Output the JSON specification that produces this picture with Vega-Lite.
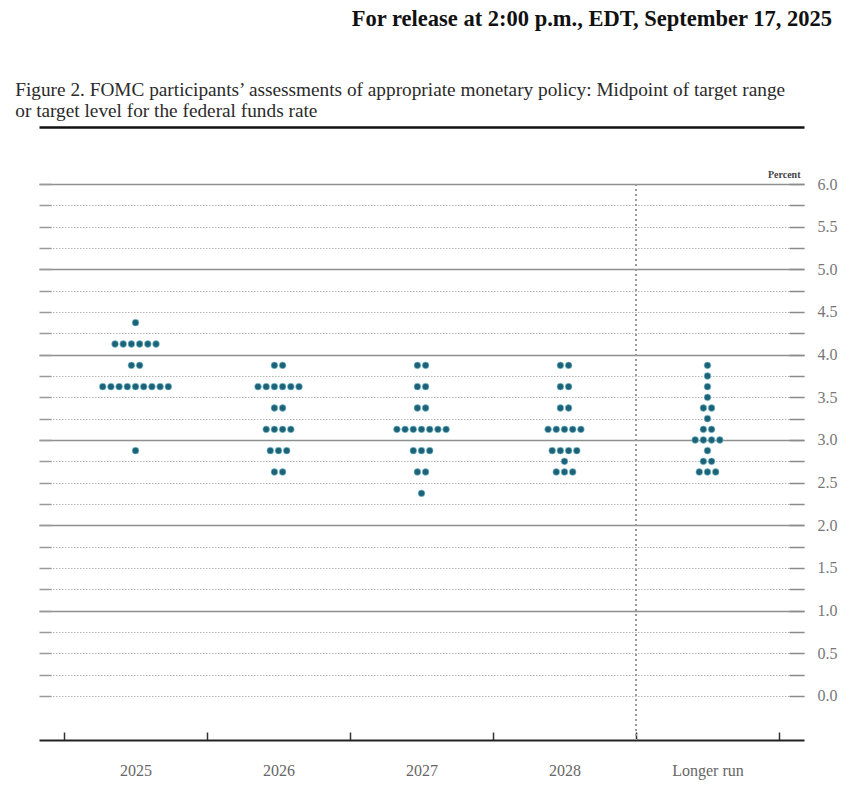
{
  "$schema": "https://vega.github.io/schema/vega-lite/v6.json",
  "background": "white",
  "padding": {"left": 15, "top": 8, "right": 10, "bottom": 4},
  "config": {"view": {"stroke": null}},
  "title": {
    "text": "For release at 2:00 p.m., EDT, September 17, 2025",
    "anchor": "end",
    "frame": "bounds",
    "dx": -5,
    "offset": 50,
    "font": "Liberation Serif",
    "fontSize": 22.5,
    "fontWeight": "bold",
    "color": "#111111"
  },
  "vconcat": [
    {
      "width": 765,
      "height": 556,
      "title": {
        "text": ["Figure 2. FOMC participants’ assessments of appropriate monetary policy: Midpoint of target range", "or target level for the federal funds rate"],
        "anchor": "start",
        "frame": "bounds",
        "dx": -23,
        "offset": 6,
        "lineHeight": 21,
        "font": "Liberation Serif",
        "fontSize": 19.3,
        "fontWeight": "normal",
        "color": "#2a2a2a"
      },
      "data": {
        "values": [
          {"period": "2025", "rate": 4.375},
          {"period": "2025", "rate": 4.125}, {"period": "2025", "rate": 4.125}, {"period": "2025", "rate": 4.125},
          {"period": "2025", "rate": 4.125}, {"period": "2025", "rate": 4.125}, {"period": "2025", "rate": 4.125},
          {"period": "2025", "rate": 3.875}, {"period": "2025", "rate": 3.875},
          {"period": "2025", "rate": 3.625}, {"period": "2025", "rate": 3.625}, {"period": "2025", "rate": 3.625},
          {"period": "2025", "rate": 3.625}, {"period": "2025", "rate": 3.625}, {"period": "2025", "rate": 3.625},
          {"period": "2025", "rate": 3.625}, {"period": "2025", "rate": 3.625}, {"period": "2025", "rate": 3.625},
          {"period": "2025", "rate": 2.875},

          {"period": "2026", "rate": 3.875}, {"period": "2026", "rate": 3.875},
          {"period": "2026", "rate": 3.625}, {"period": "2026", "rate": 3.625}, {"period": "2026", "rate": 3.625},
          {"period": "2026", "rate": 3.625}, {"period": "2026", "rate": 3.625}, {"period": "2026", "rate": 3.625},
          {"period": "2026", "rate": 3.375}, {"period": "2026", "rate": 3.375},
          {"period": "2026", "rate": 3.125}, {"period": "2026", "rate": 3.125}, {"period": "2026", "rate": 3.125}, {"period": "2026", "rate": 3.125},
          {"period": "2026", "rate": 2.875}, {"period": "2026", "rate": 2.875}, {"period": "2026", "rate": 2.875},
          {"period": "2026", "rate": 2.625}, {"period": "2026", "rate": 2.625},

          {"period": "2027", "rate": 3.875}, {"period": "2027", "rate": 3.875},
          {"period": "2027", "rate": 3.625}, {"period": "2027", "rate": 3.625},
          {"period": "2027", "rate": 3.375}, {"period": "2027", "rate": 3.375},
          {"period": "2027", "rate": 3.125}, {"period": "2027", "rate": 3.125}, {"period": "2027", "rate": 3.125}, {"period": "2027", "rate": 3.125},
          {"period": "2027", "rate": 3.125}, {"period": "2027", "rate": 3.125}, {"period": "2027", "rate": 3.125},
          {"period": "2027", "rate": 2.875}, {"period": "2027", "rate": 2.875}, {"period": "2027", "rate": 2.875},
          {"period": "2027", "rate": 2.625}, {"period": "2027", "rate": 2.625},
          {"period": "2027", "rate": 2.375},

          {"period": "2028", "rate": 3.875}, {"period": "2028", "rate": 3.875},
          {"period": "2028", "rate": 3.625}, {"period": "2028", "rate": 3.625},
          {"period": "2028", "rate": 3.375}, {"period": "2028", "rate": 3.375},
          {"period": "2028", "rate": 3.125}, {"period": "2028", "rate": 3.125}, {"period": "2028", "rate": 3.125},
          {"period": "2028", "rate": 3.125}, {"period": "2028", "rate": 3.125},
          {"period": "2028", "rate": 2.875}, {"period": "2028", "rate": 2.875}, {"period": "2028", "rate": 2.875}, {"period": "2028", "rate": 2.875},
          {"period": "2028", "rate": 2.75},
          {"period": "2028", "rate": 2.625}, {"period": "2028", "rate": 2.625}, {"period": "2028", "rate": 2.625},

          {"period": "Longer run", "rate": 3.875},
          {"period": "Longer run", "rate": 3.75},
          {"period": "Longer run", "rate": 3.625},
          {"period": "Longer run", "rate": 3.5},
          {"period": "Longer run", "rate": 3.375}, {"period": "Longer run", "rate": 3.375},
          {"period": "Longer run", "rate": 3.25},
          {"period": "Longer run", "rate": 3.125}, {"period": "Longer run", "rate": 3.125},
          {"period": "Longer run", "rate": 3.0}, {"period": "Longer run", "rate": 3.0}, {"period": "Longer run", "rate": 3.0}, {"period": "Longer run", "rate": 3.0},
          {"period": "Longer run", "rate": 2.875},
          {"period": "Longer run", "rate": 2.75}, {"period": "Longer run", "rate": 2.75},
          {"period": "Longer run", "rate": 2.625}, {"period": "Longer run", "rate": 2.625}, {"period": "Longer run", "rate": 2.625}
        ]
      },
      "transform": [
        {"window": [{"op": "row_number", "as": "idx"}], "groupby": ["period", "rate"]},
        {"joinaggregate": [{"op": "count", "as": "n"}], "groupby": ["period", "rate"]},
        {"calculate": "datum.idx - (datum.n + 1) / 2", "as": "off"}
      ],
      "layer": [
        {
          "mark": {"type": "circle", "size": 46, "opacity": 1, "color": "#1d6277", "stroke": "#8fd0e2", "strokeWidth": 0.6},
          "encoding": {
            "x": {
              "field": "period",
              "type": "nominal",
              "sort": ["2025", "2026", "2027", "2028", "Longer run"],
              "scale": {"paddingInner": 0, "paddingOuter": 0.175},
              "axis": {
                "orient": "bottom",
                "title": null,
                "labelAngle": 0,
                "grid": false,
                "domainColor": "#222222",
                "domainWidth": 2,
                "tickBand": "extent",
                "tickSize": -8,
                "tickColor": "#333333",
                "tickWidth": 1.5,
                "labelPadding": 30,
                "labelFont": "Liberation Serif",
                "labelFontSize": 16,
                "labelColor": "#666666"
              }
            },
            "xOffset": {"field": "off", "type": "quantitative", "scale": {"domain": [-1, 1], "range": [63.3, 79.7]}},
            "y": {
              "field": "rate",
              "type": "quantitative",
              "scale": {"domain": [-0.516, 6], "nice": false, "zero": false},
              "axis": {
                "orient": "right",
                "values": [0, 0.25, 0.5, 0.75, 1, 1.25, 1.5, 1.75, 2, 2.25, 2.5, 2.75, 3, 3.25, 3.5, 3.75, 4, 4.25, 4.5, 4.75, 5, 5.25, 5.5, 5.75, 6],
                "format": ".1f",
                "labelExpr": "datum.value % 0.5 === 0 ? datum.label : ''",
                "grid": true,
                "gridColor": {"condition": {"test": "datum.value % 1 === 0 && datum.value > 0", "value": "#8f8f8f"}, "value": "#b5b5b5"},
                "gridDash": {"condition": {"test": "datum.value % 1 === 0 && datum.value > 0", "value": []}, "value": [1.5, 1.5]},
                "gridWidth": {"condition": {"test": "datum.value % 1 === 0 && datum.value > 0", "value": 1.5}, "value": 1},
                "domain": false,
                "tickSize": -15,
                "tickColor": "#8a8a8a",
                "tickWidth": 1.5,
                "labelPadding": 28,
                "labelFont": "Liberation Serif",
                "labelFontSize": 16,
                "labelColor": "#777777",
                "title": "Percent",
                "titleAngle": 0,
                "titleX": -4,
                "titleY": -5,
                "titleAlign": "right",
                "titleBaseline": "bottom",
                "titleFont": "Liberation Serif",
                "titleFontSize": 10,
                "titleFontWeight": "bold",
                "titleColor": "#444444"
              }
            }
          }
        },
        {
          "mark": {"type": "rule", "color": "#9a9a9a", "strokeWidth": 1.5, "strokeDash": [2, 3]},
          "encoding": {
            "x": {
              "datum": "Longer run",
              "type": "nominal",
              "bandPosition": 0,
              "axis": {"orient": "top", "offset": 57, "title": null, "labels": false, "ticks": false, "grid": false, "domainColor": "#111111", "domainWidth": 2.5}
            },
            "y": {
              "datum": 6,
              "type": "quantitative",
              "axis": {
                "orient": "left",
                "values": [0, 0.25, 0.5, 0.75, 1, 1.25, 1.5, 1.75, 2, 2.25, 2.5, 2.75, 3, 3.25, 3.5, 3.75, 4, 4.25, 4.5, 4.75, 5, 5.25, 5.5, 5.75, 6],
                "labels": false,
                "domain": false,
                "grid": false,
                "minExtent": 0,
                "tickSize": -12,
                "tickColor": "#999999",
                "tickWidth": 1.5,
                "title": null
              }
            },
            "y2": {"datum": -0.516}
          }
        }
      ],
      "resolve": {"axis": {"x": "independent", "y": "independent"}}
    }
  ]
}
